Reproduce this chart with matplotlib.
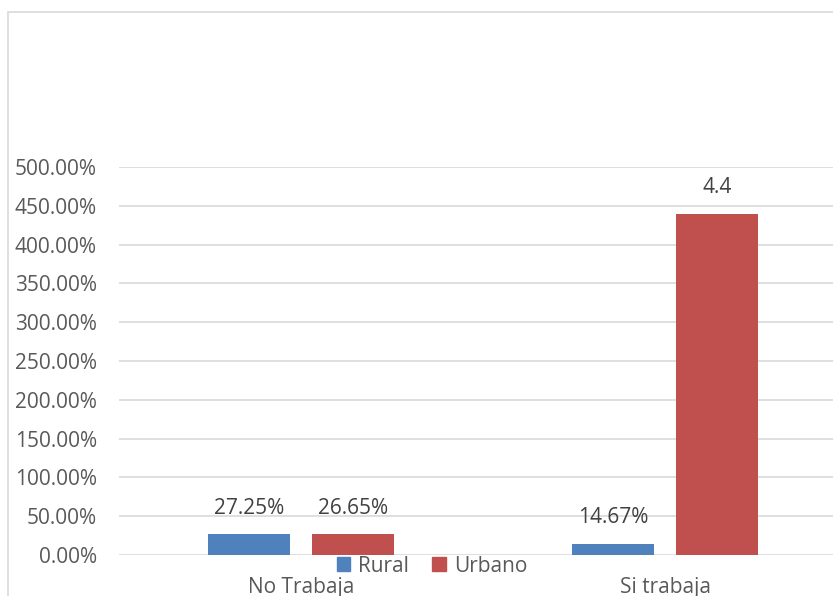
import matplotlib
matplotlib.use('Agg')
import matplotlib.pyplot as plt
import matplotlib.patches as mpatches
from matplotlib.ticker import FuncFormatter
import numpy as np

# ── datos ──
categorias = ['No Trabaja', 'Si trabaja']
rural = [0.2725, 0.1467]
urbano = [0.2665, 4.4]
etiquetas_rural = ['27.25%', '14.67%']
etiquetas_urbano = ['26.65%', '4.4']
yticks = np.arange(0, 5.01, 0.5)

azul = '#4f81bd'
rojo = '#c0504d'
gris_txt = '#595959'
fs = 15

plt.rcParams['font.family'] = ['Open Sans', 'DejaVu Sans']

W, H = 833, 596
fig = plt.figure(figsize=(W / 100, H / 100), dpi=100)

# borde del gráfico (recortado a la derecha y abajo)
fig.patches.append(mpatches.Rectangle((8 / W, -0.2), 2, 1.2 - 12 / H, transform=fig.transFigure,
                                      fill=False, edgecolor='#d9d9d9', linewidth=1.2))

ax = fig.add_axes([119 / W, 1 - 555 / H, (847 - 119) / W, (555 - 167) / H])
x = np.arange(len(categorias))
bw, off = 0.225, 0.143
b1 = ax.bar(x - off, rural, bw, color=azul, zorder=3)
b2 = ax.bar(x + off, urbano, bw, color=rojo, zorder=3)

for rects, labs in [(b1, etiquetas_rural), (b2, etiquetas_urbano)]:
    for r, t in zip(rects, labs):
        ax.annotate(t, (r.get_x() + r.get_width() / 2, r.get_height()), xytext=(0, 11),
                    textcoords='offset points', ha='center', va='bottom',
                    fontsize=fs, color='#404040')

ax.set_xlim(-0.5, 1.5)
ax.set_ylim(0, 5)
ax.set_yticks(yticks)
ax.yaxis.set_major_formatter(FuncFormatter(lambda v, p: f'{v * 100:.2f}%'))
ax.set_xticks(x)
ax.set_xticklabels(categorias)
ax.grid(axis='y', color='#d9d9d9', linewidth=1.2, zorder=0)
for s in ax.spines.values():
    s.set_visible(False)
ax.tick_params(length=0, labelsize=fs, colors=gris_txt)
ax.tick_params(axis='y', pad=16)
ax.tick_params(axis='x', pad=16)

handles = [mpatches.Patch(color=azul, label='Rural'), mpatches.Patch(color=rojo, label='Urbano')]
leg = fig.legend(handles=handles, loc='center', bbox_to_anchor=(432 / W, 1 - 566 / H), ncol=2,
                 frameon=False, fontsize=fs, handlelength=0.65, handleheight=0.65,
                 handletextpad=0.4, columnspacing=1.1, borderpad=0)
for t in leg.get_texts():
    t.set_color(gris_txt)

fig.savefig('out.png', dpi=100, facecolor='white')
